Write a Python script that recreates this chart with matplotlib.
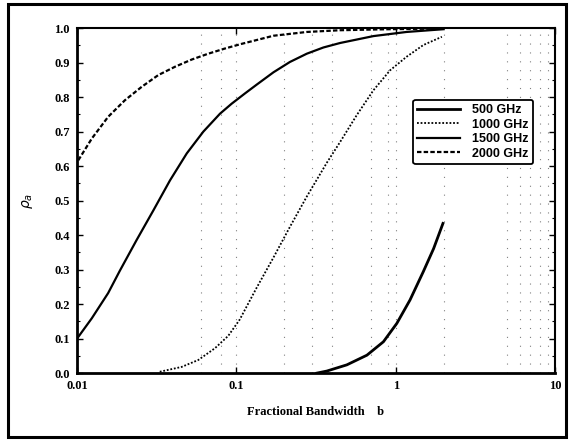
import matplotlib
matplotlib.use("Agg")
import matplotlib.pyplot as plt
from matplotlib.patches import Rectangle
from matplotlib.ticker import MultipleLocator, NullFormatter, FixedLocator, FixedFormatter

# values
b_500 = [0.32, 0.37, 0.494, 0.66, 0.838, 1.016, 1.23, 1.49, 1.73, 1.98]
rho_500 = [0.0, 0.006, 0.024, 0.052, 0.091, 0.144, 0.212, 0.294, 0.361, 0.434]

b_1000 = [0.0331, 0.0454, 0.0577, 0.0734, 0.089, 0.105, 0.134, 0.171, 0.217, 0.277,
          0.370, 0.448, 0.570, 0.725, 0.923, 1.17, 1.49, 1.95]
rho_1000 = [0.004, 0.018, 0.038, 0.072, 0.108, 0.155, 0.247, 0.335, 0.424, 0.512,
            0.610, 0.670, 0.748, 0.820, 0.878, 0.917, 0.951, 0.975]

b_1500 = [0.0102, 0.0124, 0.0157, 0.0186, 0.0237, 0.0302, 0.0384, 0.0489, 0.0621, 0.079,
          0.0935, 0.1135, 0.134, 0.171, 0.217, 0.277, 0.352, 0.448, 0.725, 1.17, 2.0]
rho_1500 = [0.105, 0.159, 0.232, 0.297, 0.386, 0.472, 0.559, 0.637, 0.700, 0.752,
            0.781, 0.811, 0.836, 0.872, 0.902, 0.926, 0.944, 0.957, 0.977, 0.989, 0.997]

b_2000 = [0.0102, 0.0124, 0.0157, 0.020, 0.0255, 0.0324, 0.0412, 0.0525, 0.0667, 0.0849,
          0.107, 0.171, 0.277, 0.448, 0.92, 2.0]
rho_2000 = [0.617, 0.680, 0.743, 0.791, 0.830, 0.864, 0.888, 0.909, 0.926, 0.941,
            0.954, 0.978, 0.989, 0.994, 0.997, 0.999]

x_ticks = [0.01, 0.1, 1, 10]
x_labels = ["0.01", "0.1", "1", "10"]
grid_x = [0.06, 0.08, 0.1, 0.2, 0.3, 0.4, 0.7, 0.9, 1, 2, 5, 6, 7, 8, 9]

serif = "Liberation Serif"

fig = plt.figure(figsize=(5.74, 4.40), dpi=100)
ax = fig.add_axes([0.134, 0.152, 0.833, 0.784])

# faint dotted vertical grid, like the scanned original
for gx in grid_x:
    ax.axvline(gx, color="0.5", lw=0.8, ls=(0, (1, 7)), zorder=0)

ax.plot(b_500, rho_500, color="black", lw=2.0, ls="-", label="500 GHz")
ax.plot(b_1000, rho_1000, color="black", lw=1.3, ls=(0, (1, 1)), label="1000 GHz")
ax.plot(b_1500, rho_1500, color="black", lw=1.6, ls="-", label="1500 GHz")
ax.plot(b_2000, rho_2000, color="black", lw=1.6, ls=(0, (2, 1)), label="2000 GHz")

ax.set_xscale("log")
ax.set_xlim(0.01, 10)
ax.set_ylim(0.0, 1.0)
ax.xaxis.set_major_locator(FixedLocator(x_ticks))
ax.xaxis.set_major_formatter(FixedFormatter(x_labels))
ax.xaxis.set_minor_formatter(NullFormatter())
ax.yaxis.set_major_locator(MultipleLocator(0.1))
ax.yaxis.set_minor_locator(MultipleLocator(0.05))
ax.tick_params(which="both", direction="in", top=True, right=True)
ax.tick_params(which="major", length=4, width=1.0, pad=5)
ax.tick_params(which="minor", length=2, width=0.8)
ax.tick_params(axis="x", which="minor", length=0)

for lab in ax.get_xticklabels() + ax.get_yticklabels():
    lab.set_fontfamily(serif)
    lab.set_fontweight("bold")
    lab.set_fontsize(9)

for side in ax.spines.values():
    side.set_linewidth(1.5)
ax.spines["left"].set_linewidth(2.0)
ax.spines["bottom"].set_linewidth(2.0)

ax.set_xlabel("Fractional Bandwidth    b", fontfamily=serif, fontweight="bold", fontsize=9, labelpad=10)
ax.set_ylabel(r"$\rho_a$", fontsize=10, labelpad=14)

leg = ax.legend(loc="upper left", bbox_to_anchor=(0.69, 0.81), fancybox=True, framealpha=1,
                edgecolor="black", handlelength=3.4, handletextpad=1.0, borderpad=0.35,
                labelspacing=0.2, prop={"family": "Liberation Sans", "weight": "bold", "size": 9})
leg.get_frame().set_linewidth(1.3)

# outer border of the scanned figure
fig.patches.append(Rectangle((8 / 574, 3 / 440), 558 / 574, 433 / 440, transform=fig.transFigure,
                             fill=False, edgecolor="black", lw=2.2))

fig.savefig("out.png", dpi=100)
